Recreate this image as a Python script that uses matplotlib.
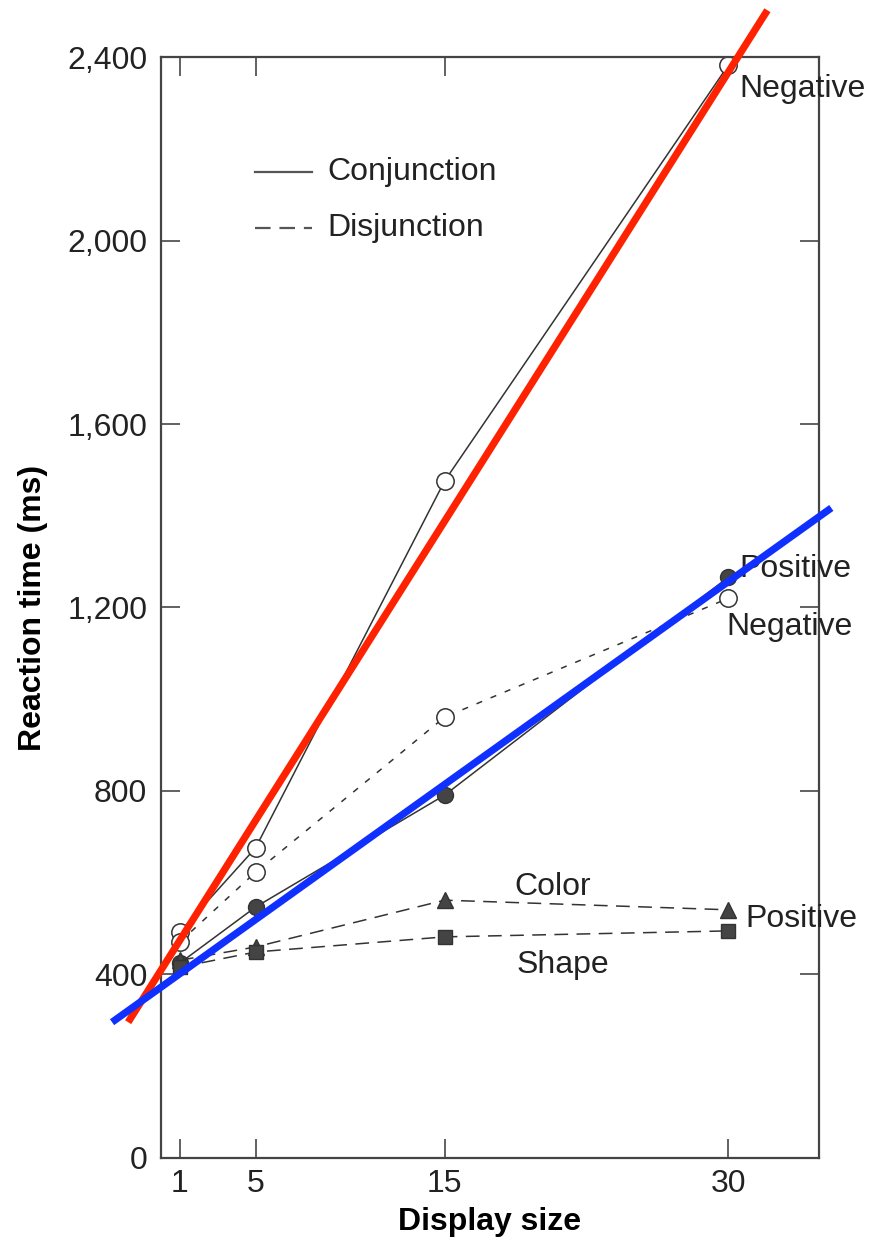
import numpy as np
import matplotlib.pyplot as plt

# display sizes on the x axis
sizes = [1, 5, 15, 30]

# reaction times (ms)
conj_neg = [493, 676, 1476, 2382]
conj_pos = [425, 547, 791, 1266]
disj_neg = [471, 623, 961, 1220]
color_pos = [431, 460, 562, 541]
shape_pos = [416, 449, 482, 495]

yticks = [0, 400, 800, 1200, 1600, 2000, 2400]
ytick_labels = ['0', '400', '800', '1,200', '1,600', '2,000', '2,400']

# two fitted lines drawn over the scan (start/end in data units)
red_x = [-1.74, 32.07]
red_y = [296, 2502]
blue_x = [-2.59, 35.45]
blue_y = [296, 1417]

plt.rcParams['font.family'] = ['Liberation Sans', 'DejaVu Sans']

fig = plt.figure(figsize=(8.69, 12.45), dpi=100)
ax = fig.add_axes([0.1853, 0.0699, 0.7572, 0.8843])

ink = '#333333'
fill = '#444444'
ax.plot(sizes, conj_neg, '-', color=ink, lw=1.1, marker='o', ms=12.5,
        mfc='white', mec=ink, mew=1.1)
ax.plot(sizes, conj_pos, '-', color=ink, lw=1.1, marker='o', ms=11.5,
        mfc=fill, mec=ink)
ax.plot(sizes, disj_neg, '--', color=ink, lw=1.1, marker='o', ms=12.5,
        mfc='white', mec=ink, mew=1.1, dashes=(4, 6))
ax.plot(sizes, color_pos, '--', color=ink, lw=1.1, marker='^', ms=11,
        mfc=fill, mec=ink, dashes=(9, 5.5))
ax.plot(sizes, shape_pos, '--', color=ink, lw=1.1, marker='s', ms=10,
        mfc=fill, mec=ink, dashes=(9, 5.5))

ax.plot(red_x, red_y, color='#ff2200', lw=5.2, clip_on=False, zorder=5,
        solid_capstyle='butt')
ax.plot(blue_x, blue_y, color='#1030ff', lw=5.2, clip_on=False, zorder=5,
        solid_capstyle='butt')

# legend drawn by hand like the book figure
ax.plot([4.97, 7.98], [2149, 2149], '-', color='#555555', lw=1.6)
ax.plot([4.97, 7.98], [2027, 2027], '--', color='#555555', lw=1.6,
        dashes=(7, 4))
txt = dict(fontsize=23, va='center', color='#222222')
ax.text(8.82, 2149, 'Conjunction', **txt)
ax.text(8.82, 2027, 'Disjunction', **txt)

ax.text(30.6, 2330, 'Negative', **txt)
ax.text(30.6, 1285, 'Positive', **txt)
ax.text(29.9, 1157, 'Negative', **txt)
ax.text(18.7, 590, 'Color', **txt)
ax.text(18.8, 420, 'Shape', **txt)
ax.text(30.9, 520, 'Positive', **txt)

ax.set_xlim(0, 34.8)
ax.set_ylim(0, 2400)
ax.set_xticks(sizes)
ax.set_yticks(yticks)
ax.set_yticklabels(ytick_labels)
ax.tick_params(direction='in', length=14, width=1.3, colors='#555555',
               labelcolor='#222222', labelsize=23, top=True, right=True)
ax.tick_params(axis='y', pad=10)
ax.tick_params(axis='x', pad=8)
for s in ax.spines.values():
    s.set_color('#444444')
    s.set_linewidth(1.6)

ax.set_xlabel('Display size', fontsize=23, fontweight='bold', labelpad=6)
ax.set_ylabel('Reaction time (ms)', fontsize=23, fontweight='bold', labelpad=14)

fig.savefig('out.png', dpi=100)
